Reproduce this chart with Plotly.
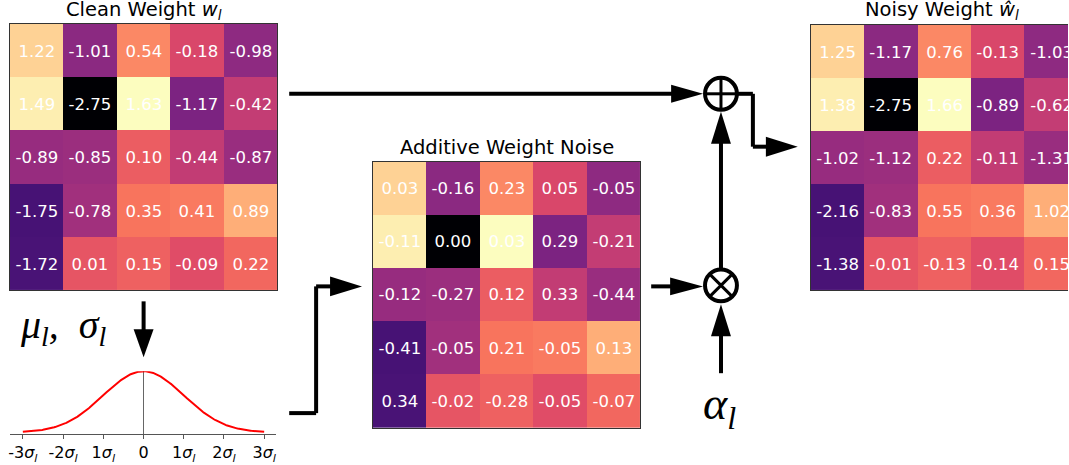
import numpy as np
import plotly.graph_objects as go

# ---------------- data ----------------
clean_weights = [
    [1.22, -1.01, 0.54, -0.18, -0.98],
    [1.49, -2.75, 1.63, -1.17, -0.42],
    [-0.89, -0.85, 0.10, -0.44, -0.87],
    [-1.75, -0.78, 0.35, 0.41, 0.89],
    [-1.72, 0.01, 0.15, -0.09, 0.22],
]
noise_values = [
    [0.03, -0.16, 0.23, 0.05, -0.05],
    [-0.11, 0.00, 0.03, 0.29, -0.21],
    [-0.12, -0.27, 0.12, 0.33, -0.44],
    [-0.41, -0.05, 0.21, -0.05, 0.13],
    [0.34, -0.02, -0.28, -0.05, -0.07],
]
noisy_weights = [
    [1.25, -1.17, 0.76, -0.13, -1.03],
    [1.38, -2.75, 1.66, -0.89, -0.62],
    [-1.02, -1.12, 0.22, -0.11, -1.31],
    [-2.16, -0.83, 0.55, 0.36, 1.02],
    [-1.38, -0.01, -0.13, -0.14, 0.15],
]
sigma_ticks = [-3, -2, -1, 0, 1, 2, 3]
sigma_labels = ["-3<i>σ</i><sub><i>l</i></sub>", "-2<i>σ</i><sub><i>l</i></sub>",
                "1<i>σ</i><sub><i>l</i></sub>", "0",
                "1<i>σ</i><sub><i>l</i></sub>", "2<i>σ</i><sub><i>l</i></sub>",
                "3<i>σ</i><sub><i>l</i></sub>"]

W, H = 1069, 465
def px(x): return x / W
def py(y): return 1 - y / H

magma = [[0.0, "#000004"], [0.1, "#140e36"], [0.2, "#3b0f70"], [0.3, "#641a80"],
         [0.4, "#8c2981"], [0.5, "#b73779"], [0.6, "#de4968"], [0.7, "#f7705c"],
         [0.8, "#fe9f6d"], [0.9, "#fecf92"], [1.0, "#fcfdbf"]]
zmin = float(np.min(clean_weights)); zmax = float(np.max(clean_weights))

def fmt(m):
    return [[f"{v:.2f}" for v in row] for row in m]

fig = go.Figure()
SANS = "DejaVu Sans"
for i, labels in enumerate([clean_weights, noise_values, noisy_weights]):
    suf = "" if i == 0 else str(i + 1)
    fig.add_trace(go.Heatmap(
        z=clean_weights, text=fmt(labels), texttemplate="%{text}",
        textfont=dict(color="white", size=16.5, family=SANS),
        colorscale=magma, zmin=zmin, zmax=zmax, showscale=False,
        hoverinfo="skip", xaxis="x" + suf, yaxis="y" + suf))

# gaussian
xs = np.linspace(-3, 3, 301)
pdf = np.exp(-xs ** 2 / 2) / np.sqrt(2 * np.pi)
fig.add_trace(go.Scatter(x=xs, y=pdf, mode="lines", line=dict(color="red", width=2),
                         xaxis="x4", yaxis="y4", hoverinfo="skip", showlegend=False))

hm_ax = dict(showticklabels=False, ticks="", showgrid=False, zeroline=False,
             showline=True, mirror=True, linecolor="#333", linewidth=1)
cell = 53.6
fig.update_layout(
    width=W, height=H, margin=dict(l=0, r=0, t=0, b=0),
    paper_bgcolor="white", plot_bgcolor="white", showlegend=False,
    xaxis=dict(domain=[px(8), px(276)], range=[-0.5, 4.5], anchor="y", **hm_ax),
    yaxis=dict(domain=[py(291), py(24)], range=[4.5, -0.5], anchor="x", **hm_ax),
    xaxis2=dict(domain=[px(372), px(640)], range=[-0.5, 4.5], anchor="y2", **hm_ax),
    yaxis2=dict(domain=[py(429), py(162)], range=[4.5, -0.5], anchor="x2", **hm_ax),
    xaxis3=dict(domain=[px(811), 1.0], range=[-0.5, -0.5 + (W - 811) / cell],
                anchor="y3", **hm_ax),
    yaxis3=dict(domain=[py(291), py(25)], range=[4.5, -0.5], anchor="x3",
                **{**hm_ax, "mirror": False}),
    xaxis4=dict(domain=[px(8), px(275)], range=[-3.32, 3.30], tickvals=sigma_ticks,
                ticktext=sigma_labels, ticks="outside", ticklen=4, tickcolor="#555",
                showline=True, linecolor="#555", linewidth=1.2, showgrid=False,
                zeroline=True, zerolinecolor="#666", zerolinewidth=1, anchor="y4",
                tickfont=dict(family=SANS, size=16, color="black")),
    yaxis4=dict(domain=[py(435), py(372)], range=[-0.01, float(pdf.max())],
                visible=False, showgrid=False, zeroline=False, anchor="x4"),
)

shapes = []
LW = 4
def seg(pts):
    for (x0, y0), (x1, y1) in zip(pts[:-1], pts[1:]):
        shapes.append(dict(type="line", xref="paper", yref="paper",
                           x0=px(x0), y0=py(y0), x1=px(x1), y1=py(y1),
                           line=dict(color="black", width=LW)))
def tri(tip, base, direction, half=10):
    tx, ty = tip
    if direction == "right":
        pts = [(tx, ty), (base, ty - half), (base, ty + half)]
    else:  # up / down
        pts = [(tx, ty), (tx - half, base), (tx + half, base)]
    path = "M " + " L ".join(f"{px(x)},{py(y)}" for x, y in pts) + " Z"
    shapes.append(dict(type="path", xref="paper", yref="paper", path=path,
                       fillcolor="black", line=dict(width=0)))

# clean -> plus
seg([(288, 94), (673, 94)]); tri((703, 94), 671, "right", 9)
# gaussian -> noise
seg([(288, 414), (315, 414), (315, 287), (331, 287)]); tri((361, 287), 329, "right")
# noise -> times
seg([(651, 287), (672, 287)]); tri((703, 287), 670, "right", 9)
# times -> plus
seg([(721, 270), (721, 142)]); tri((721, 112), 144, "up")
# alpha -> times
seg([(721, 374), (721, 335)]); tri((721, 305), 337, "up")
# plus -> output
seg([(737, 94), (753, 94), (753, 147), (768, 147)]); tri((798, 147), 766, "right")
# mu,sigma -> gaussian
seg([(142, 302), (142, 332)]); tri((142, 358), 330, "down")

# circled operators
for cy, kind in [(94, "plus"), (286, "times")]:
    cx, r = 721, 16
    shapes.append(dict(type="circle", xref="paper", yref="paper",
                       x0=px(cx - r), x1=px(cx + r), y0=py(cy + r), y1=py(cy - r),
                       fillcolor="white", line=dict(color="black", width=4)))
    if kind == "plus":
        segs = [((cx - r, cy), (cx + r, cy)), ((cx, cy - r), (cx, cy + r))]
    else:
        d = r * 0.7071
        segs = [((cx - d, cy - d), (cx + d, cy + d)), ((cx - d, cy + d), (cx + d, cy - d))]
    for (x0, y0), (x1, y1) in segs:
        shapes.append(dict(type="line", xref="paper", yref="paper",
                           x0=px(x0), y0=py(y0), x1=px(x1), y1=py(y1),
                           line=dict(color="black", width=3)))
fig.update_layout(shapes=shapes)

def ann(x, y, text, size, family=SANS):
    fig.add_annotation(x=px(x), y=py(y), xref="paper", yref="paper", text=text,
                       showarrow=False, xanchor="center", yanchor="middle",
                       font=dict(family=family, size=size, color="black"))

ann(142, 11, "Clean Weight <i>w</i><sub><i>l</i></sub>", 19.5)
ann(943, 11, "Noisy Weight <i>ŵ</i><sub><i>l</i></sub>", 19.5)
ann(506, 148, "Additive Weight Noise", 19.5)
ann(62, 328, "<i>μ</i><sub><i>l</i></sub><i>,  σ</i><sub><i>l</i></sub>", 40, "Liberation Serif")
ann(720, 408, "<i>α</i><sub><i>l</i></sub>", 46, "Liberation Serif")

fig.write_html("out.html", config={"displayModeBar": False},
               post_script="document.body.style.margin='0';")
